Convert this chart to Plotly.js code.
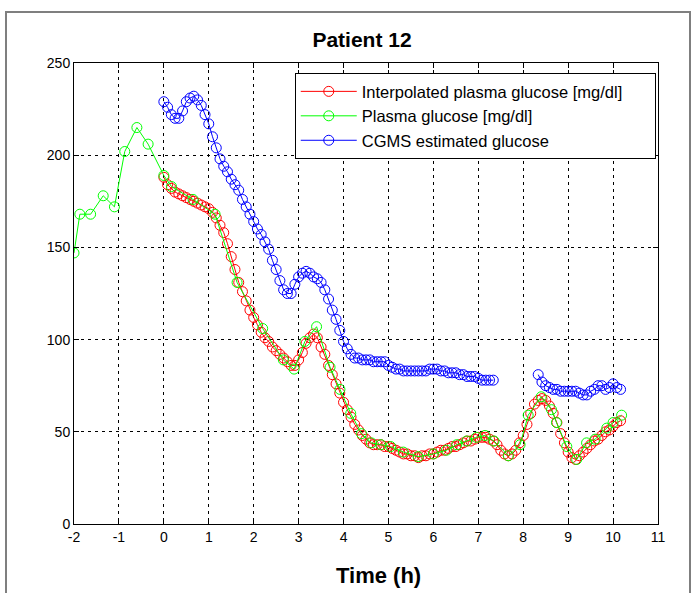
<!DOCTYPE html>
<html>
<head>
<meta charset="utf-8">
<script src="https://cdn.plot.ly/plotly-3.0.1.min.js"></script>
<style>
  html, body { margin: 0; padding: 0; background: #fff; }
  #chart { width: 694px; height: 593px; }
</style>
</head>
<body>
<div id="chart"></div>
<script>
// ---- Data ----
// Interpolated plasma glucose, 5-minute samples starting at t = 0 h
var interpStartHour = 0;
var interpStepMin = 5;
var interpGlucose = [
  188,184,182,180,179,178,177,176,175,174,173,172,
  171,169,166,162,158,152,145,138,131,126,121,116,
  112,108,104,101,99,96,94,92,90,88,86,86,
  89,93,98,101,103,101,96,92,86,81,76,71,
  66,62,58,54,51,48,46,44,43,43,43,42,
  42,41,40,39,38,38,37,37,36,37,37,38,
  38,39,40,40,41,42,42,43,44,45,45,46,
  47,47,47,46,45,43,40,38,37,38,40,44,
  48,54,60,65,67,68,67,64,60,55,49,44,
  39,36,35,37,39,41,43,45,46,48,50,51,
  53,55,56
];

// Measured plasma glucose (time in h, value in mg/dl)
var plasmaTime = [-2.0,-1.87,-1.63,-1.35,-1.10,-0.87,-0.60,-0.35,0.0,0.17,0.65,1.14,1.63,2.20,2.66,2.90,3.14,3.40,3.70,3.92,4.16,4.40,4.62,4.83,5.05,5.33,5.66,6.00,6.29,6.52,6.74,6.96,7.15,7.35,7.67,7.93,8.11,8.40,8.63,8.74,8.97,9.19,9.41,9.60,9.86,10.00,10.19];
var plasmaGlucose = [147,168,168,178,172,202,215,206,189,183,176,168,131,106,89,84,99,107,85,73,60,49,44,43,42,39,36.5,38,40,43,45,47,48,45,37,43,59,69,62,55,42,35,44,46,52,55,59];

// CGMS estimated glucose, 5-minute samples starting at t = 0 h (null = no data)
var cgmsStartHour = 0;
var cgmsStepMin = 5;
var cgmsGlucose = [
  229,226,222,220,220,224,229,231,232,230,227,222,
  217,210,204,198,194,191,187,184,181,176,172,168,
  164,160,157,153,149,143,138,132,127,125,125,130,
  134,136,137,136,134,133,131,127,122,116,111,105,
  99,95,92,90,90,89,89,89,88,88,88,88,
  86,85,84,84,83,83,83,83,83,83,83,84,
  84,84,83,83,82,82,82,81,81,80,80,80,
  79,78,78,78,78,null,null,null,null,null,null,null,
  null,null,null,null,81,77,75,74,73,73,72,72,
  72,72,72,71,70,70,72,73,75,75,73,74,
  76,74,73
];

var seriesNames = ['Interpolated plasma glucose [mg/dl]', 'Plasma glucose [mg/dl]', 'CGMS estimated glucose'];
var xTicks = [-2,-1,0,1,2,3,4,5,6,7,8,9,10,11];
var yTicks = [0,50,100,150,200,250];

function timeGrid(start, stepMin, n) {
  var t = [];
  for (var i = 0; i < n; i++) t.push(start + i * stepMin / 60);
  return t;
}

var interpTime = timeGrid(interpStartHour, interpStepMin, interpGlucose.length);
var cgmsTime = timeGrid(cgmsStartHour, cgmsStepMin, cgmsGlucose.length);

// trailing non-breaking spaces only widen the legend box (invisible)
var PAD = '\u00a0\u00a0\u00a0\u00a0\u00a0\u00a0';

function trace(x, y, name, color) {
  return {
    x: x, y: y, name: name, type: 'scatter', mode: 'lines+markers',
    connectgaps: false, cliponaxis: true,
    line: {color: color, width: 1},
    marker: {symbol: 'circle-open', size: 10, color: color, line: {color: color, width: 1}}
  };
}

var data = [
  trace(interpTime, interpGlucose, seriesNames[0] + PAD, '#ff0000'),
  trace(plasmaTime, plasmaGlucose, seriesNames[1], '#00ff00'),
  trace(cgmsTime, cgmsGlucose, seriesNames[2], '#0000ff')
];

var FONT = 'Liberation Sans, Arial, sans-serif';
var axisCommon = {
  showline: true, linecolor: '#000', linewidth: 1, mirror: 'ticks',
  ticks: 'inside', ticklen: 5, tickcolor: '#000', tickwidth: 1,
  showgrid: true, gridcolor: '#000', gridwidth: 1, griddash: '3px,4px',
  zeroline: false,
  tickfont: {family: FONT, size: 14, color: '#000'}
};

var layout = {
  width: 694, height: 593,
  margin: {l: 74, r: 36, t: 63, b: 69},
  paper_bgcolor: '#fff', plot_bgcolor: '#fff',
  showlegend: true,
  title: {
    text: '<b>Patient 12</b>',
    font: {family: FONT, size: 21, color: '#000'},
    x: (362-74)/584, xanchor: 'center', xref: 'paper',
    y: 1 - 40/593, yanchor: 'middle', yref: 'container'
  },
  xaxis: Object.assign({}, axisCommon, {
    range: [-2, 11], tickmode: 'array', tickvals: xTicks, ticktext: xTicks.map(String)
  }),
  yaxis: Object.assign({}, axisCommon, {
    range: [0, 250], tickmode: 'array', tickvals: yTicks, ticktext: yTicks.map(String)
  }),
  legend: {
    x: 0.378, y: 0.978, xanchor: 'left', yanchor: 'top',
    bgcolor: '#fff', bordercolor: '#000', borderwidth: 1,
    font: {family: FONT, size: 16.5, color: '#000'},
    itemwidth: 56,
    tracegroupgap: 0
  },
  annotations: [{
    text: '<b>Time (h)</b>', showarrow: false,
    xref: 'paper', yref: 'paper',
    x: (378-74)/584, y: (524-575)/461, xanchor: 'center', yanchor: 'middle',
    font: {family: FONT, size: 22, color: '#000'}
  }],
  shapes: [{
    type: 'rect', xref: 'paper', yref: 'paper',
    x0: (6-74)/584, x1: (690-74)/584, y0: (524-600)/461, y1: (524-12)/461,
    line: {color: '#7f7f7f', width: 2}, fillcolor: 'rgba(0,0,0,0)', layer: 'below'
  }]
};

Plotly.newPlot('chart', data, layout, {staticPlot: true, displayModeBar: false});
</script>
</body>
</html>
